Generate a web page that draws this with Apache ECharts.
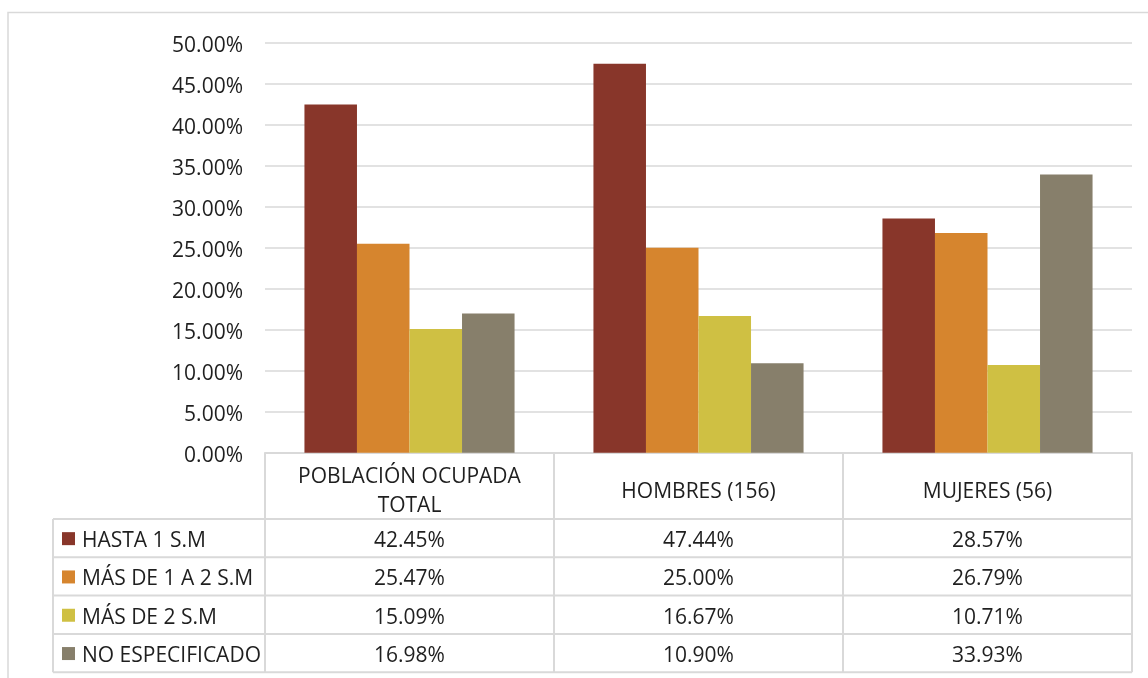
<!DOCTYPE html>
<html>
<head>
<meta charset="utf-8">
<script src="https://cdn.jsdelivr.net/npm/echarts@6/dist/echarts.min.js"></script>
<style>
html,body{margin:0;padding:0;background:#fff;}
#main{width:1148px;height:678px;}
</style>
</head>
<body>
<div id="main"></div>
<script>
// ---- data ----
const categories = ['POBLACIÓN OCUPADA\nTOTAL', 'HOMBRES (156)', 'MUJERES (56)'];
const seriesNames = ['HASTA 1 S.M', 'MÁS DE 1 A 2 S.M', 'MÁS DE 2 S.M', 'NO ESPECIFICADO'];
const hasta1 = [42.45, 47.44, 28.57];
const mas1a2 = [25.47, 25.00, 26.79];
const mas2 = [15.09, 16.67, 10.71];
const noEspecificado = [16.98, 10.90, 33.93];
const yTicks = { min: 0, max: 50, interval: 5 };

const seriesData = [hasta1, mas1a2, mas2, noEspecificado];
const colors = ['#88362A', '#D6852E', '#CFC043', '#877F6B'];

// ---- layout ----
const FONT = 'Open Sans';
const TXT = '#1f1f1f';
const LINE = '#d9d9d9';
const gridL = 265, gridR = 1132, gridT = 42.7, gridB = 452.7;
const headerBottom = 519, rowH = 38.3, legendLeft = 53;
const colW = (gridR - gridL) / categories.length;
const tableBottom = headerBottom + rowH * seriesNames.length;

const graphics = [];
// outer chart border
graphics.push({ type: 'polyline', shape: { points: [[8, 690], [8, 12.5], [1160, 12.5]] },
  style: { stroke: LINE, lineWidth: 1.5, fill: null }, silent: true });
// table horizontal lines
for (let i = 0; i <= seriesNames.length; i++) {
  const y = headerBottom + i * rowH;
  graphics.push({ type: 'line', shape: { x1: legendLeft, y1: y, x2: gridR, y2: y },
    style: { stroke: LINE, lineWidth: 2 }, silent: true });
}
// table vertical lines
graphics.push({ type: 'line', shape: { x1: legendLeft, y1: headerBottom, x2: legendLeft, y2: tableBottom },
  style: { stroke: LINE, lineWidth: 2 }, silent: true });
for (let c = 0; c <= categories.length; c++) {
  const x = gridL + c * colW;
  graphics.push({ type: 'line', shape: { x1: x, y1: gridB, x2: x, y2: tableBottom },
    style: { stroke: LINE, lineWidth: 2 }, silent: true });
}
// legend keys, names and values
seriesNames.forEach((name, r) => {
  const cy = headerBottom + r * rowH + rowH / 2 + 3;
  graphics.push({ type: 'rect', shape: { x: 62, y: cy - 9, width: 13, height: 13 },
    style: { fill: colors[r] }, silent: true });
  graphics.push({ type: 'text', x: 82, y: cy,
    style: { text: name, font: '21px "' + FONT + '"', fill: TXT, textVerticalAlign: 'middle', verticalAlign: 'middle' }, silent: true });
  seriesData[r].forEach((v, c) => {
    graphics.push({ type: 'text', x: gridL + (c + 0.5) * colW, y: cy,
      style: { text: v.toFixed(2) + '%', font: '21px "' + FONT + '"', fill: TXT,
        align: 'center', textAlign: 'center', verticalAlign: 'middle', textVerticalAlign: 'middle' }, silent: true });
  });
});

const chart = echarts.init(document.getElementById('main'), null, { renderer: 'canvas' });
chart.setOption({
  animation: false,
  backgroundColor: '#fff',
  textStyle: { fontFamily: FONT },
  grid: { left: gridL, right: 1148 - gridR, top: gridT, bottom: 678 - gridB, containLabel: false },
  xAxis: {
    type: 'category',
    data: categories,
    axisLine: { show: true, lineStyle: { color: LINE, width: 2 } },
    axisTick: { show: false },
    axisLabel: { color: TXT, fontSize: 21, fontFamily: FONT, lineHeight: 29, margin: 39, verticalAlign: 'middle', interval: 0 }
  },
  yAxis: {
    type: 'value',
    min: yTicks.min, max: yTicks.max, interval: yTicks.interval,
    axisLine: { show: false },
    axisTick: { show: false },
    splitLine: { lineStyle: { color: LINE, width: 1.5 } },
    axisLabel: {
      color: TXT, fontSize: 21, fontFamily: FONT, margin: 22,
      formatter: v => '{p|' + v.toFixed(2) + '%}',
      rich: { p: { color: TXT, fontSize: 21, fontFamily: FONT, padding: [7, 0, 0, 0] } }
    }
  },
  series: seriesNames.map((name, i) => ({
    name: name,
    type: 'bar',
    data: seriesData[i],
    itemStyle: { color: colors[i] },
    barGap: '0%',
    barCategoryGap: '27.3%'
  })),
  graphic: graphics
});
</script>
</body>
</html>
